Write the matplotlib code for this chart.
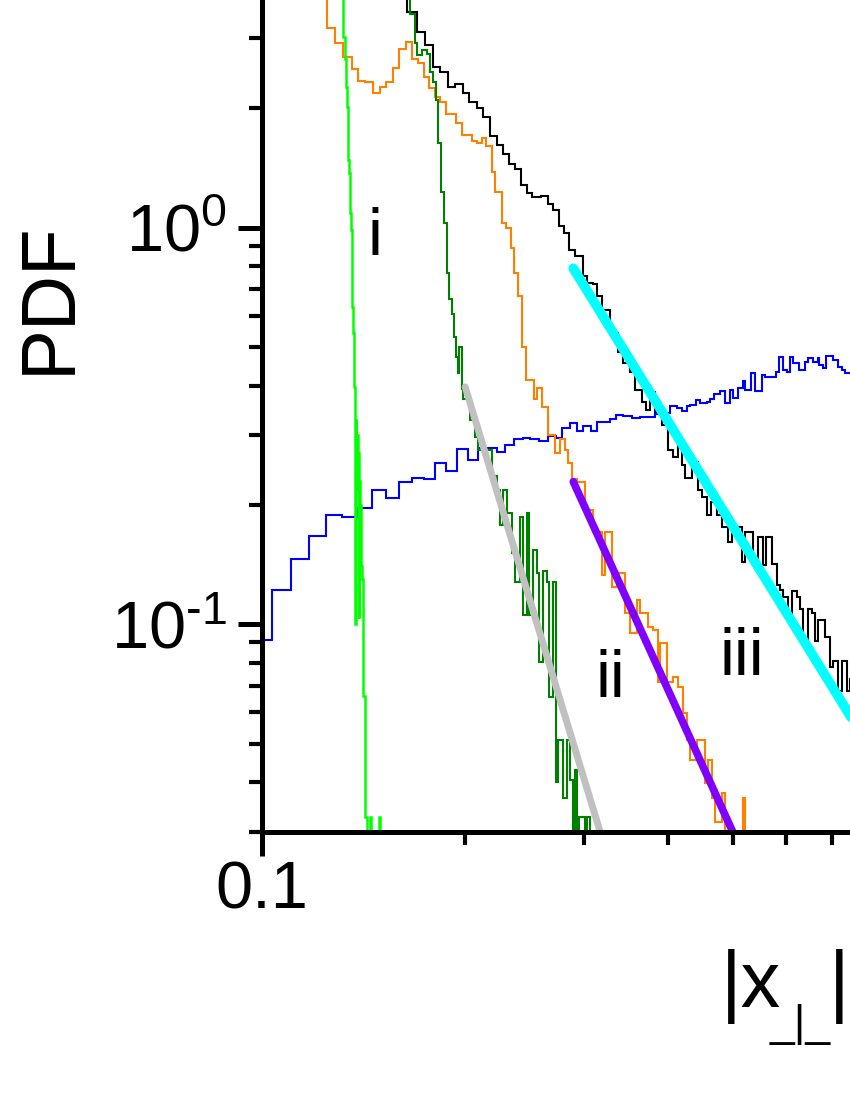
import numpy as np
import matplotlib
matplotlib.use("Agg")
import matplotlib.pyplot as plt
from matplotlib.ticker import FixedLocator, FixedFormatter, LogLocator, NullFormatter

plt.rcParams["font.family"] = ["Liberation Sans", "DejaVu Sans"]
plt.rcParams["mathtext.fontset"] = "custom"
plt.rcParams["mathtext.rm"] = "Liberation Sans"

# blue histogram (bin edges, PDF values)
blue_edges = [0.1000, 0.1035, 0.1104, 0.1174, 0.1245, 0.1314, 0.1388, 0.1456, 0.1528, 0.1597,
              0.1669, 0.1739, 0.1806, 0.1875, 0.1947, 0.2021, 0.2092, 0.2232, 0.2294, 0.2366,
              0.2440, 0.2499, 0.2577, 0.2657, 0.2731, 0.2787, 0.2864, 0.2933, 0.2994, 0.3077,
              0.3141, 0.3206, 0.3283, 0.3351, 0.3433, 0.3537, 0.3637, 0.3829, 0.3895, 0.4028,
              0.4128, 0.4195, 0.4271, 0.4311, 0.4404, 0.4461, 0.4573, 0.4616, 0.4684, 0.4776,
              0.4863, 0.4943, 0.4993, 0.5084, 0.5167, 0.5202, 0.5315, 0.5388, 0.5513, 0.5570,
              0.5790, 0.5849, 0.5930, 0.6012, 0.6074, 0.6137, 0.6262, 0.6391, 0.6453, 0.6570,
              0.6673, 0.6700, 0.6806, 0.6860, 0.7034, 0.7147, 0.7254, 0.7329, 0.7600]
blue_vals = [0.0913, 0.1221, 0.1462, 0.1670, 0.1886, 0.1865, 0.1965, 0.2182, 0.2083, 0.2285,
             0.2338, 0.2325, 0.2551, 0.2435, 0.2767, 0.2596, 0.2783, 0.2719, 0.2832, 0.2933,
             0.2950, 0.2933, 0.2899, 0.2985, 0.2950, 0.3126, 0.3218, 0.3072, 0.3163, 0.3072,
             0.3236, 0.3236, 0.3293, 0.3371, 0.3352, 0.3312, 0.3331, 0.3391, 0.3411, 0.3551,
             0.3511, 0.3450, 0.3551, 0.3571, 0.3679, 0.3614, 0.3634, 0.3700, 0.3809, 0.3876,
             0.3614, 0.3898, 0.3721, 0.3944, 0.4107, 0.3898, 0.4301, 0.3876, 0.4251, 0.4202,
             0.4325, 0.4721, 0.4375, 0.4325, 0.4721, 0.4560, 0.4375, 0.4587, 0.4694, 0.4587,
             0.4694, 0.4507, 0.4428, 0.4748, 0.4640, 0.4454, 0.4375, 0.4301]

# black histogram
black_edges = [0.1450, 0.1641, 0.1698, 0.1745, 0.1794, 0.1837, 0.1888, 0.1933, 0.1987, 0.2028,
               0.2084, 0.2128, 0.2179, 0.2232, 0.2278, 0.2326, 0.2374, 0.2423, 0.2473, 0.2514,
               0.2590, 0.2657, 0.2703, 0.2759, 0.2806, 0.2854, 0.2914, 0.2994, 0.3035, 0.3098,
               0.3141, 0.3195, 0.3283, 0.3374, 0.3433, 0.3516, 0.3576, 0.3660, 0.3713, 0.3764,
               0.3829, 0.3919, 0.4003, 0.4075, 0.4142, 0.4195, 0.4242, 0.4341, 0.4435, 0.4492,
               0.4573, 0.4637, 0.4733, 0.4809, 0.4913, 0.4976, 0.5149, 0.5202, 0.5351, 0.5440,
               0.5532, 0.5600, 0.5704, 0.5810, 0.5867, 0.5930, 0.6031, 0.6107, 0.6219, 0.6276,
               0.6348, 0.6453, 0.6539, 0.6605, 0.6673, 0.6836, 0.6954, 0.7034, 0.7147, 0.7254,
               0.7379, 0.7446, 0.7600]
black_vals = [5.0, 3.50, 3.11, 2.89, 2.54, 2.47, 2.26, 2.30, 2.19, 2.08,
              2.00, 1.90, 1.70, 1.62, 1.53, 1.45, 1.41, 1.28, 1.22, 1.195,
              1.20, 1.147, 1.108, 1.010, 0.970, 0.878, 0.848, 0.756, 0.725, 0.721,
              0.673, 0.620, 0.543, 0.486, 0.456, 0.4325, 0.390, 0.363, 0.348, 0.385,
              0.344, 0.318, 0.275, 0.264, 0.283, 0.252, 0.234, 0.257, 0.218, 0.209,
              0.189, 0.203, 0.189, 0.176, 0.161, 0.176, 0.144, 0.171, 0.143, 0.166,
              0.141, 0.166, 0.142, 0.126, 0.122, 0.117, 0.107, 0.121, 0.117, 0.109,
              0.091, 0.109, 0.107, 0.091, 0.1025, 0.093, 0.078, 0.081, 0.068, 0.081,
              0.068, 0.073]

# orange histogram
orange_edges = [0.1150, 0.1250, 0.1283, 0.1320, 0.1359, 0.1390, 0.1422, 0.1463, 0.1497, 0.1528,
                0.1563, 0.1599, 0.1636, 0.1668, 0.1706, 0.1739, 0.1771, 0.1806, 0.1837, 0.1875,
                0.1940, 0.1979, 0.2047, 0.2082, 0.2118, 0.2150, 0.2192, 0.2217, 0.2268, 0.2300,
                0.2340, 0.2368, 0.2396, 0.2429, 0.2465, 0.2535, 0.2561, 0.2600, 0.2660, 0.2721,
                0.2768, 0.2816, 0.2848, 0.2881, 0.2931, 0.3015, 0.3098, 0.3195, 0.3228, 0.3304,
                0.3363, 0.3456, 0.3516, 0.3601, 0.3637, 0.3739, 0.3803, 0.3869, 0.3895, 0.3989,
                0.4075, 0.4142, 0.4213, 0.4271, 0.4311, 0.4419, 0.4542, 0.4589, 0.4652, 0.4700,
                0.4809, 0.4863, 0.5167, 0.5202, 0.5300]
orange_vals = [5.0, 3.19, 2.93, 2.69, 2.51, 2.35, 2.33, 2.19, 2.26, 2.33,
               2.53, 2.83, 2.94, 2.66, 2.60, 2.40, 2.25, 2.13, 2.08, 1.93,
               1.84, 1.71, 1.65, 1.64, 1.68, 1.61, 1.38, 1.23, 1.026, 0.997,
               0.887, 0.767, 0.674, 0.501, 0.413, 0.371, 0.394, 0.354, 0.300, 0.270,
               0.294, 0.275, 0.255, 0.233, 0.229, 0.194, 0.171, 0.133, 0.1705, 0.124,
               0.135, 0.107, 0.095, 0.115, 0.107, 0.0985, 0.0967, 0.0715, 0.0897, 0.0715,
               0.0736, 0.0695, 0.0597, 0.0511, 0.0455, 0.0511, 0.0398, 0.0455, 0.0365, 0.0317,
               0.0375, 0.0, 0.0365, 0.0]

# dark green histogram
green_edges = [0.1600, 0.1658, 0.1687, 0.1700, 0.1726, 0.1756, 0.1776, 0.1796, 0.1812, 0.1827,
               0.1842, 0.1862, 0.1880, 0.1896, 0.1912, 0.1929, 0.1940, 0.1956, 0.1963, 0.1979,
               0.1989, 0.2036, 0.2070, 0.2094, 0.2192, 0.2230, 0.2255, 0.2281, 0.2307, 0.2347,
               0.2374, 0.2415, 0.2442, 0.2471, 0.2493, 0.2527, 0.2556, 0.2579, 0.2614, 0.2645,
               0.2668, 0.2705, 0.2731, 0.2752, 0.2800, 0.2832, 0.2864, 0.2897, 0.2914, 0.2931,
               0.2957, 0.3015, 0.3039, 0.3066, 0.3150]
green_vals = [5.0, 3.46, 2.93, 2.73, 2.81, 2.74, 2.47, 2.33, 2.10, 1.64,
              1.23, 1.03, 0.767, 0.660, 0.606, 0.531, 0.471, 0.430, 0.501, 0.391,
              0.371, 0.327, 0.297, 0.275, 0.236, 0.218, 0.178, 0.218, 0.1905, 0.151,
              0.128, 0.187, 0.1055, 0.1905, 0.1055, 0.154, 0.1345, 0.0804, 0.136, 0.128,
              0.0657, 0.128, 0.0401, 0.0511, 0.0364, 0.0511, 0.0405, 0.0, 0.0429, 0.0,
              0.0327, 0.0, 0.0327, 0.0]

# bright green histogram
lime_edges = [0.13100, 0.13176, 0.13203, 0.13280, 0.13326, 0.13358, 0.13431, 0.13463, 0.13509,
              0.13541, 0.13587, 0.13615, 0.13662, 0.13694, 0.13727, 0.13741, 0.13760, 0.13780,
              0.13800, 0.13830, 0.13860, 0.13890, 0.13910, 0.13930, 0.13960, 0.13990, 0.14030,
              0.14070, 0.14133, 0.14218, 0.14301, 0.14466, 0.14516, 0.14930, 0.14981, 0.15200]
lime_vals = [5.0, 3.15, 3.03, 2.67, 2.27, 2.02, 1.48, 1.37, 1.09,
             0.987, 0.813, 0.632, 0.542, 0.397, 0.354, 0.30, 0.10, 0.33,
             0.25, 0.30, 0.22, 0.27, 0.104, 0.23, 0.17, 0.20, 0.14,
             0.13, 0.066, 0.0327, 0.0, 0.0327, 0.0, 0.0327, 0.0]

# power-law fits (end points)
cyan_x = [0.2896, 0.80]
cyan_y = [0.790, 0.0485]
purple_x = [0.2896, 0.4993]
purple_y = [0.2289, 0.0300]
gray_x = [0.2002, 0.3174]
gray_y = [0.397, 0.030]

ytick_labels = ["$\\mathregular{10^{\u20101}}$", "$\\mathregular{10^{0}}$"]

fig = plt.figure(figsize=(8.5, 11), dpi=100)
# axes run past the top and right edge of the picture (cropped figure)
ax = fig.add_axes([262 / 850, (1100 - 831.7) / 1100, 674 / 850, 1000.6 / 1100])
ax.set_xscale("log")
ax.set_yscale("log")
ax.set_xlim(0.1, 1.0)
ax.set_ylim(0.03, 10)

lw = 1.5
ax.stairs(blue_vals, blue_edges, baseline=None, color="#0000FF", lw=lw)
ax.stairs(black_vals, black_edges, baseline=None, color="black", lw=lw)
ax.stairs(orange_vals, orange_edges, baseline=None, color="#FF8000", lw=lw)
ax.stairs(green_vals, green_edges, baseline=None, color="#008000", lw=lw)
ax.stairs(lime_vals, lime_edges, baseline=None, color="#00FF00", lw=1.8)

ax.plot(gray_x, gray_y, color="#C0C0C0", lw=5, solid_capstyle="round")
ax.plot(purple_x, purple_y, color="#8000FF", lw=5.5, solid_capstyle="round")
ax.plot(cyan_x, cyan_y, color="#00FFFF", lw=7, solid_capstyle="round")

ax.text(0.1471, 0.853, "i", fontsize=48, ha="center", va="baseline")
ax.text(0.3283, 0.0656, "ii", fontsize=48, ha="center", va="baseline")
ax.text(0.5158, 0.0745, "iii", fontsize=48, ha="center", va="baseline")

for s in ["top", "right"]:
    ax.spines[s].set_visible(False)
for s in ["left", "bottom"]:
    ax.spines[s].set_linewidth(3.6)

ax.xaxis.set_major_locator(FixedLocator([0.1]))
ax.xaxis.set_major_formatter(FixedFormatter(["0.1"]))
ax.xaxis.set_minor_locator(LogLocator(base=10, subs=np.arange(2, 10), numticks=20))
ax.xaxis.set_minor_formatter(NullFormatter())
ax.yaxis.set_major_locator(FixedLocator([0.1, 1.0]))
ax.yaxis.set_major_formatter(FixedFormatter(ytick_labels))
ax.yaxis.set_minor_locator(LogLocator(base=10, subs=np.arange(2, 10), numticks=20))
ax.yaxis.set_minor_formatter(NullFormatter())
ax.tick_params(which="major", direction="out", length=17, width=3.6, labelsize=48)
ax.tick_params(which="minor", direction="out", length=9.5, width=3)
ax.tick_params(axis="x", which="major", pad=4)
ax.tick_params(axis="y", which="major", pad=8)

fig.text(50 / 850, 1 - 298 / 1100, "PDF", rotation=90, fontsize=55, ha="center", va="center")
fig.text(721 / 850, 1 - 1007 / 1100, "|x", fontsize=57, ha="left", va="baseline")
fig.text(770 / 850, 1 - 1036 / 1100, "_|_", fontsize=32, ha="left", va="baseline")
fig.text(849.5 / 850, 1 - 1007 / 1100, "|", fontsize=57, ha="right", va="baseline")

fig.savefig("out.png", dpi=100)
